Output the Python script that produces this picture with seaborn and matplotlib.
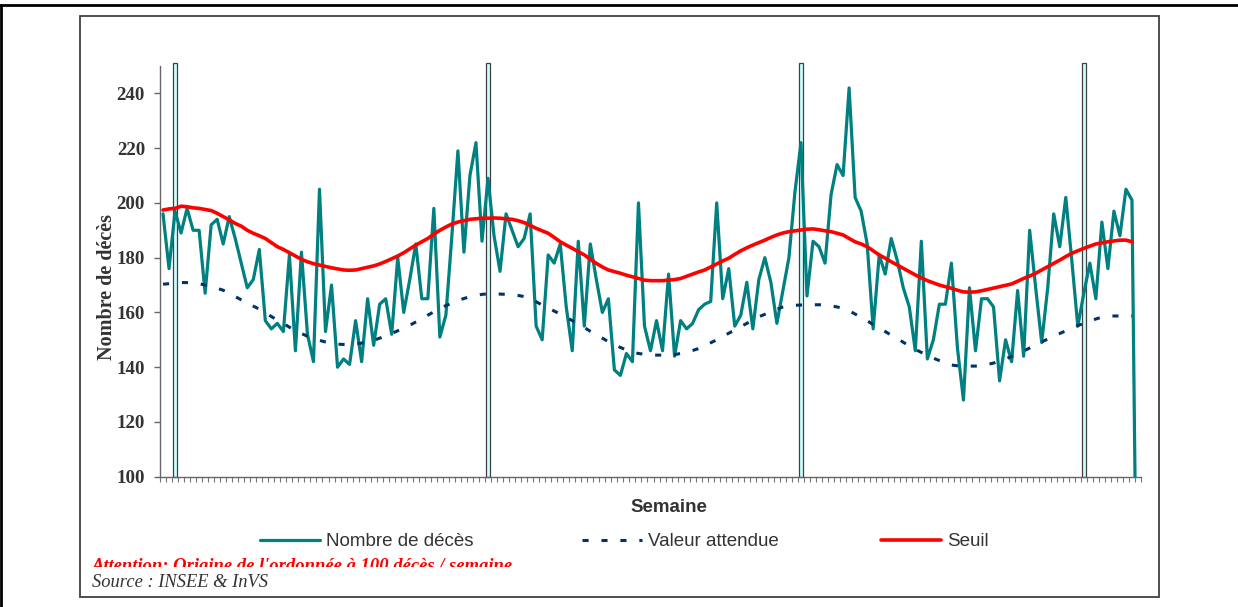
import matplotlib
matplotlib.use("Agg")
import matplotlib.pyplot as plt
from matplotlib.lines import Line2D
from matplotlib.patches import Rectangle
from matplotlib.transforms import Bbox, TransformedBbox
import numpy as np
import pandas as pd
import seaborn as sns

# weekly deaths (last week incomplete -> 0)
deces = [196, 176, 197, 189, 198, 190, 190, 167, 192, 194,
         185, 195, 187, 178, 169, 172, 183, 157, 154, 156,
         153, 181, 146, 182, 152, 142, 205, 153, 170, 140,
         143, 141, 157, 142, 165, 148, 163, 165, 152, 180,
         160, 172, 185, 165, 165, 198, 151, 159, 188, 219,
         182, 210, 222, 186, 209, 188, 175, 196, 190, 184,
         187, 196, 155, 150, 181, 178, 185, 162, 146, 186,
         155, 185, 172, 160, 165, 139, 137, 145, 142, 200,
         155, 146, 157, 146, 174, 144, 157, 154, 156, 161,
         163, 164, 200, 165, 176, 155, 159, 171, 154, 172,
         180, 171, 156, 168, 180, 204, 222, 166, 186, 184,
         178, 203, 214, 210, 242, 202, 197, 185, 154, 181,
         174, 187, 179, 169, 162, 146, 186, 143, 150, 163,
         163, 178, 147, 128, 169, 146, 165, 165, 162, 135,
         150, 142, 168, 144, 190, 169, 149, 169, 196, 184,
         202, 179, 155, 167, 178, 165, 193, 176, 197, 188,
         205, 201, 0]

seuil = [197.4, 197.8, 198.0, 198.8, 198.6, 198.2, 198.0, 197.6, 197.2, 196.2,
         195.0, 193.8, 192.5, 191.5, 190.0, 188.9, 188.0, 187.0, 185.5, 184.0,
         183.0, 181.8, 180.6, 179.4, 178.5, 177.8, 177.3, 176.8, 176.3, 175.9,
         175.5, 175.4, 175.5, 176.0, 176.5, 177.0, 177.7, 178.6, 179.6, 180.6,
         181.8, 183.2, 184.6, 185.8, 187.0, 188.6, 190.0, 191.2, 192.3, 193.0,
         193.5, 194.0, 194.2, 194.4, 194.4, 194.5, 194.4, 194.2, 194.0, 193.5,
         192.8, 191.8, 190.7, 189.8, 188.9, 187.4, 185.8, 184.6, 183.4, 182.2,
         181.0, 179.4, 177.9, 176.6, 175.5, 174.9, 174.3, 173.6, 173.0, 172.4,
         171.8, 171.6, 171.6, 171.6, 171.8, 172.0, 172.4, 173.2, 174.0, 174.8,
         175.5, 176.6, 177.7, 178.8, 179.8, 181.2, 182.5, 183.6, 184.6, 185.5,
         186.4, 187.4, 188.3, 189.0, 189.5, 189.8, 190.1, 190.4, 190.5, 190.2,
         189.8, 189.5, 188.9, 188.3, 187.0, 185.8, 185.0, 184.0, 182.5, 181.0,
         179.8, 178.5, 177.3, 176.1, 174.9, 173.7, 172.6, 171.6, 170.8, 170.0,
         169.4, 168.8, 168.1, 167.5, 167.4, 167.5, 167.9, 168.4, 168.9, 169.4,
         169.9, 170.4, 171.4, 172.4, 173.3, 174.3, 175.5, 176.7, 177.9, 179.1,
         180.4, 181.6, 182.5, 183.4, 184.2, 185.0, 185.4, 185.8, 186.1, 186.4,
         186.4, 185.8, np.nan]

attendu = [170.3, 170.5, 170.7, 170.9, 170.9, 170.8, 170.5, 170.0, 169.4, 168.8,
           168.1, 167.0, 165.8, 164.6, 163.5, 162.3, 161.2, 159.9, 158.5, 157.2,
           156.0, 154.6, 153.4, 152.3, 151.3, 150.5, 149.8, 149.2, 148.7, 148.4,
           148.3, 148.4, 148.5, 148.8, 149.2, 149.8, 150.6, 151.4, 152.3, 153.3,
           154.3, 155.3, 156.5, 157.7, 159.0, 160.2, 161.4, 162.5, 163.4, 164.3,
           165.1, 165.7, 166.2, 166.6, 166.8, 166.8, 166.7, 166.6, 166.4, 166.2,
           165.8, 165.0, 163.9, 162.7, 161.6, 160.5, 159.4, 158.2, 157.0, 155.8,
           154.5, 153.1, 151.8, 150.6, 149.3, 148.2, 147.2, 146.3, 145.5, 145.0,
           144.7, 144.5, 144.4, 144.4, 144.4, 144.6, 145.0, 145.5, 146.1, 146.8,
           147.8, 148.9, 150.0, 151.2, 152.4, 153.6, 154.8, 156.0, 157.2, 158.4,
           159.3, 160.2, 161.1, 162.0, 162.5, 162.6, 162.7, 162.8, 162.8, 162.8,
           162.7, 162.4, 162.0, 161.5, 160.6, 159.4, 158.3, 157.0, 155.5, 154.2,
           153.0, 151.7, 150.5, 149.1, 147.8, 146.5, 145.4, 144.3, 143.3, 142.4,
           141.6, 140.8, 140.5, 140.4, 140.4, 140.4, 140.6, 141.0, 141.5, 142.2,
           143.0, 143.9, 144.9, 145.9, 147.0, 148.1, 149.2, 150.3, 151.4, 152.3,
           153.3, 154.2, 155.2, 156.0, 156.8, 157.6, 158.3, 158.6, 158.7, 158.7,
           158.7, 158.7, np.nan]

# weeks carrying the vertical year markers
debut_annee = [2, 54, 106, 153]
hauteur_repere = 251

TEAL = "#008080"
RED = "#FF0000"
NAVY = "#003366"
GREY = "#333333"
DASH = (0, (2.0, 4.2))

W, H = 1238, 607

df = pd.DataFrame({
    "Semaine": range(len(deces)),
    "Nombre de décès": deces,
    "Valeur attendue": attendu,
    "Seuil": seuil,
})

sns.set_style("ticks")
plt.rcParams["font.family"] = ["Liberation Sans", "DejaVu Sans"]

fig = plt.figure(figsize=(W / 100, H / 100), dpi=100)
ax = fig.add_axes([160 / W, 1 - 476.7 / H, 981 / W, (476.7 - 66) / H])

# year markers drawn as thin bars behind the lines
ax.bar(debut_annee, [hauteur_repere - 100] * len(debut_annee), bottom=100,
       width=0.6, color="#CCFFFF", edgecolor="#404040", linewidth=0.9,
       clip_on=False, zorder=1)

sns.lineplot(data=df, x="Semaine", y="Nombre de décès", ax=ax,
             color=TEAL, lw=2.3, zorder=3)
sns.lineplot(data=df, x="Semaine", y="Valeur attendue", ax=ax,
             color=NAVY, lw=2.2, linestyle=DASH, zorder=4)
sns.lineplot(data=df, x="Semaine", y="Seuil", ax=ax,
             color=RED, lw=2.6, zorder=5)

ax.set_xlim(-0.5, len(deces) - 0.5)
ax.set_ylim(100, 250)
ax.set_yticks(range(100, 241, 20))
ax.set_xticks(np.arange(-0.5, len(deces), 1))
ax.set_xticklabels([])

sns.despine(ax=ax)
for side in ["left", "bottom"]:
    ax.spines[side].set_color("#666666")
    ax.spines[side].set_linewidth(1)

ax.tick_params(axis="y", direction="out", length=4.3, width=1, color="#666666",
               pad=6.5, labelsize=13.6, labelcolor=GREY)
ax.tick_params(axis="x", direction="out", length=3.6, width=0.8, color="#777777")
for lbl in ax.get_yticklabels():
    lbl.set_fontfamily("Liberation Serif")
    lbl.set_fontweight("bold")

ax.set_ylabel("Nombre de décès", fontfamily="Liberation Serif", fontweight="bold",
              fontsize=14.5, color=GREY)
ax.yaxis.set_label_coords((107 - 160) / 981, (476.7 - 287) / (476.7 - 66))
ax.yaxis.label.set_va("center")
ax.set_xlabel("Semaine", fontfamily="Liberation Sans", fontweight="bold",
              fontsize=13.5, color=GREY)
ax.xaxis.set_label_coords((668.5 - 160) / 981, -(508 - 476.7) / (476.7 - 66))
ax.xaxis.label.set_va("center")

# legend: one entry per slot, like the original layout
handles = [
    Line2D([], [], color=TEAL, lw=2.3),
    Line2D([], [], color=NAVY, lw=2.2, linestyle=DASH),
    Line2D([], [], color=RED, lw=2.6),
]
labels = ["Nombre de décès", "Valeur attendue", "Seuil"]
for h, lab, x in zip(handles, labels, [260, 582, 881]):
    leg = fig.legend([h], [lab], loc="center left", bbox_to_anchor=(x / W, 1 - 541.5 / H),
                     frameon=False, borderpad=0, borderaxespad=0,
                     handlelength=3.2, handletextpad=0.3,
                     prop={"family": "Liberation Sans", "size": 13.5})
    for t in leg.get_texts():
        t.set_color(GREY)

# warning text, cut off at the bottom as in the source
warn = fig.text(92 / W, 1 - 570.6 / H,
                "Attention: Origine de l'ordonnée à 100 décès / semaine",
                color="red", fontfamily="Liberation Serif", fontweight="bold",
                fontstyle="italic", fontsize=13.4, va="baseline")
warn.set_clip_box(TransformedBbox(Bbox.from_extents(0, 1 - 566.5 / H, 1, 1), fig.transFigure))
warn.set_clip_on(True)

fig.text(91.5 / W, 1 - 586.7 / H, "Source : INSEE & InVS", color=GREY,
         fontfamily="Liberation Serif", fontstyle="italic", fontsize=13.3, va="baseline")

# frames
fig.add_artist(Rectangle((79.5 / W, 1 - 596.5 / H), (1158.5 - 79.5) / W, (596.5 - 16) / H,
                         transform=fig.transFigure, fill=False, edgecolor="#404040", lw=1.3))
fig.add_artist(Line2D([0, 1], [1 - 5 / H] * 2, transform=fig.transFigure, color="black", lw=2))
fig.add_artist(Line2D([1.3 / W] * 2, [0, 1 - 5 / H], transform=fig.transFigure, color="black", lw=2))

fig.savefig("out.png", dpi=100)
